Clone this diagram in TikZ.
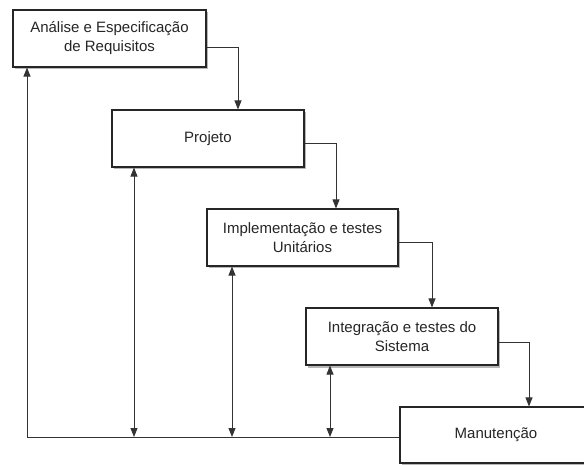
\documentclass[tikz,border=0pt]{standalone}
\usepackage{fontspec}
\setmainfont{Liberation Sans}
\usetikzlibrary{arrows.meta,shadows}
\begin{document}
\begin{tikzpicture}[x=1pt,y=-1pt,
  phase/.style={draw=black!85,line width=1.1pt,fill=white,minimum width=192pt,
    minimum height=57pt,inner sep=0pt,align=center,text=black!85,
    font=\fontsize{15}{19}\selectfont,
    drop shadow={shadow xshift=1.5pt,shadow yshift=-2.5pt,opacity=0.4,fill=black!70}},
  tip/.style={Triangle[width=7pt,length=9pt]},
  flow/.style={draw=black!80,line width=0.9pt,-{Triangle[width=7pt,length=9pt]}},
  both/.style={draw=black!80,line width=0.9pt,{Triangle[width=7pt,length=9pt]}-{Triangle[width=7pt,length=9pt]}}]
\useasboundingbox (0,0) rectangle (584,465);
\begin{scope}
\clip (0,0) rectangle (584,465);
\node[phase,minimum width=193pt] (b1) at (109.5,38.5) {Análise e Especificação\\de Requisitos};
\node[phase] (b2) at (208,138.5) {Projeto};
\node[phase,minimum width=191pt] (b3) at (302.5,237.5) {Implementação e testes\\Unitários};
\node[phase] (b4) at (402,336.5) {Integração e testes do\\Sistema};
\node[phase,minimum height=56pt] (b5) at (496,435) {Manutenção};
\end{scope}
% cascade between successive phases
\draw[flow] ([yshift=-8.5pt]b1.east) -| ([xshift=30pt]b2.north);
\draw[flow] ([yshift=-4.5pt]b2.east) -| ([xshift=33.5pt]b3.north);
\draw[flow] ([yshift=-4.5pt]b3.east) -| ([xshift=30pt]b4.north);
\draw[flow] ([yshift=-5.5pt]b4.east) -| ([xshift=33pt]b5.north);
% feedback line along the bottom
\coordinate (floor) at ([yshift=-2pt]b5.west);
\draw[flow] (floor) -| ([xshift=-82.5pt]b1.south);
\draw[both] ([xshift=-74pt]b2.south) -- ([xshift=-74pt]b2.south |- floor);
\draw[both] ([xshift=-70.5pt]b3.south) -- ([xshift=-70.5pt]b3.south |- floor);
\draw[both] ([xshift=-72pt]b4.south) -- ([xshift=-72pt]b4.south |- floor);
\end{tikzpicture}
\end{document}
